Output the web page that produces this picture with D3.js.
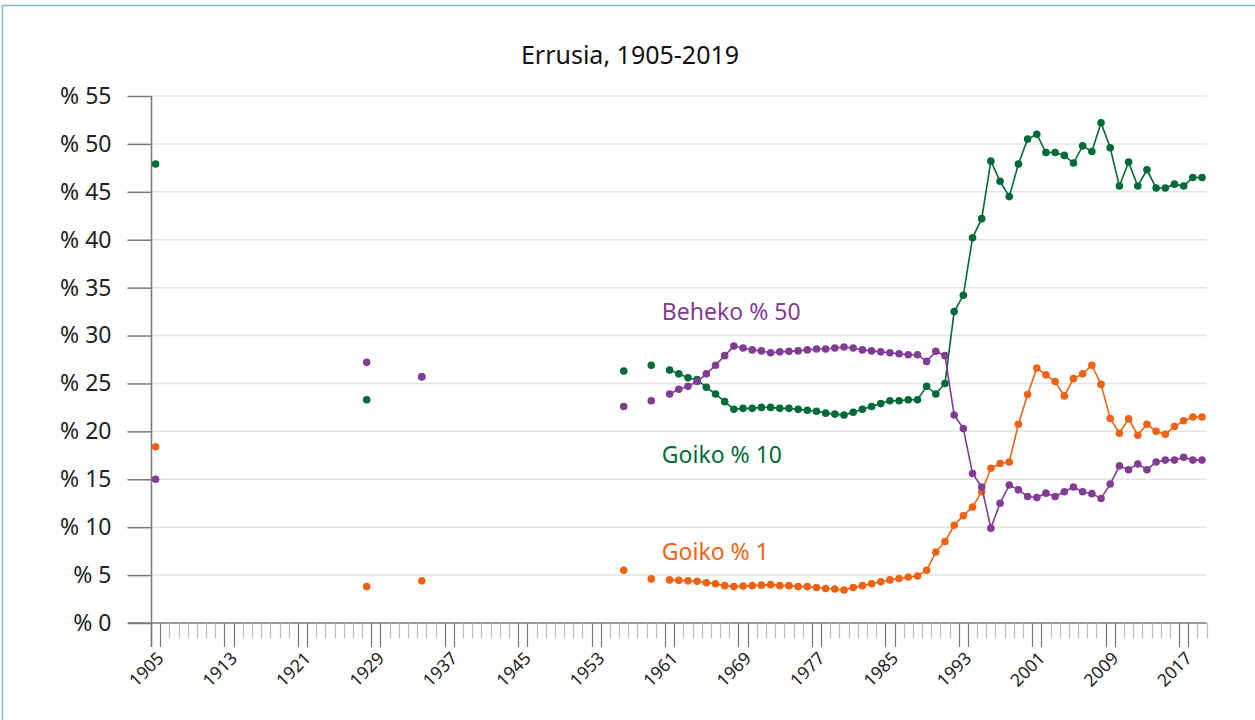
<!DOCTYPE html>
<html>
<head>
<meta charset="utf-8">
<script src="https://cdn.jsdelivr.net/npm/d3@7"></script>
<style>
  html, body { margin: 0; padding: 0; background: #fff; }
  svg { display: block; font-family: "Noto Sans", Lato, sans-serif; }
</style>
</head>
<body>
<svg id="chart" width="1255" height="720"></svg>
<script>
// ---- data ----
const title = "Errusia, 1905-2019";
const years = [1905, 1928, 1934, 1956, 1959,
  1961, 1962, 1963, 1964, 1965, 1966, 1967, 1968, 1969, 1970,
  1971, 1972, 1973, 1974, 1975, 1976, 1977, 1978, 1979, 1980,
  1981, 1982, 1983, 1984, 1985, 1986, 1987, 1988, 1989, 1990,
  1991, 1992, 1993, 1994, 1995, 1996, 1997, 1998, 1999, 2000,
  2001, 2002, 2003, 2004, 2005, 2006, 2007, 2008, 2009, 2010,
  2011, 2012, 2013, 2014, 2015, 2016, 2017, 2018, 2019];
const top10 = [47.9, 23.3, 25.7, 26.3, 26.9,
  26.4, 26.0, 25.6, 25.4, 24.6, 23.9, 23.1, 22.3, 22.4, 22.4,
  22.5, 22.5, 22.4, 22.4, 22.3, 22.2, 22.1, 21.9, 21.8, 21.7,
  22.0, 22.3, 22.6, 22.9, 23.2, 23.2, 23.3, 23.3, 24.7, 23.9,
  25.0, 32.5, 34.2, 40.2, 42.2, 48.2, 46.1, 44.5, 47.9, 50.5,
  51.0, 49.1, 49.1, 48.8, 48.0, 49.8, 49.2, 52.2, 49.6, 45.6,
  48.1, 45.6, 47.3, 45.4, 45.4, 45.8, 45.6, 46.5, 46.5];
const bottom50 = [15.0, 27.2, 25.7, 22.6, 23.2,
  23.9, 24.4, 24.7, 25.2, 26.0, 26.9, 27.9, 28.9, 28.7, 28.5,
  28.4, 28.2, 28.3, 28.35, 28.4, 28.5, 28.6, 28.6, 28.7, 28.8,
  28.7, 28.5, 28.4, 28.3, 28.2, 28.1, 28.0, 28.0, 27.3, 28.35,
  27.9, 21.7, 20.3, 15.6, 14.2, 9.9, 12.5, 14.4, 13.9, 13.2,
  13.1, 13.55, 13.2, 13.7, 14.2, 13.7, 13.5, 13.0, 14.5, 16.4,
  16.0, 16.6, 16.0, 16.8, 17.0, 17.0, 17.3, 17.0, 17.0];
const top1 = [18.4, 3.8, 4.4, 5.5, 4.6,
  4.5, 4.45, 4.4, 4.35, 4.2, 4.1, 3.9, 3.8, 3.85, 3.9,
  3.95, 4.0, 3.9, 3.9, 3.8, 3.8, 3.7, 3.6, 3.55, 3.45,
  3.7, 3.9, 4.1, 4.3, 4.5, 4.65, 4.8, 4.9, 5.5, 7.4,
  8.5, 10.2, 11.2, 12.1, 13.7, 16.15, 16.65, 16.8, 20.75, 23.85,
  26.6, 25.9, 25.2, 23.7, 25.5, 26.0, 26.9, 24.9, 21.35, 19.8,
  21.3, 19.6, 20.75, 20.0, 19.7, 20.5, 21.1, 21.5, 21.5];
const seriesNames = ["Goiko % 1", "Goiko % 10", "Beheko % 50"];
const seriesColors = ["#ef6213", "#006b38", "#833c95"];
const yTicks = [0, 5, 10, 15, 20, 25, 30, 35, 40, 45, 50, 55];
const firstYear = 1905, lastYear = 2019, labelStep = 8;

// ---- scales ----
const svg = d3.select("#chart");
const allYears = d3.range(firstYear, lastYear + 1);
const x = d3.scaleBand().domain(allYears).range([151, 1206.6]).padding(0);
const bw = x.bandwidth();
const xc = yr => x(yr) + bw / 2;
const y = d3.scaleLinear().domain([0, 55]).range([623, 96]);

// frame
svg.append("rect").attr("x", 2.5).attr("y", 5.5).attr("width", 1300).attr("height", 800)
  .attr("fill", "none").attr("stroke", "#8db3d0").attr("stroke-width", 1.5);

// title
svg.append("text").attr("x", 630).attr("y", 64).attr("text-anchor", "middle")
  .attr("font-size", 25).attr("fill", "#111").text(title);

// gridlines
svg.append("g").selectAll("line").data(yTicks.filter(d => d > 0)).join("line")
  .attr("x1", x.range()[0]).attr("x2", x.range()[1])
  .attr("y1", d => y(d)).attr("y2", d => y(d))
  .attr("stroke", "#e4e4e4").attr("stroke-width", 1.5);

// y axis
const yAxis = d3.axisLeft(y).tickValues(yTicks).tickSize(24).tickPadding(16)
  .tickFormat(d => "% " + d);
const gy = svg.append("g").attr("transform", "translate(151.5,0)").call(yAxis);
gy.select(".domain").remove();
gy.selectAll(".tick line").attr("stroke", "#777").attr("stroke-width", 1.5);
gy.selectAll(".tick text").attr("font-size", 23).attr("fill", "#222")
  .attr("font-family", "'Noto Sans', Lato, sans-serif");
svg.append("line").attr("x1", 151.5).attr("x2", 151.5).attr("y1", y(55)).attr("y2", y(0) + 24)
  .attr("stroke", "#777").attr("stroke-width", 1.5);

// x axis line
svg.append("line").attr("x1", 128).attr("x2", x.range()[1]).attr("y1", y(0)).attr("y2", y(0))
  .attr("stroke", "#777").attr("stroke-width", 1.5);

// x ticks at band edges
const labelYears = allYears.filter(d => (d - firstYear) % labelStep === 0);
const edges = allYears.map(d => x(d)).concat([x.range()[1]]);
const longEdges = new Set();
labelYears.forEach(d => { longEdges.add(x(d).toFixed(2)); longEdges.add((x(d) + bw).toFixed(2)); });
svg.append("g").selectAll("line").data(edges).join("line")
  .attr("x1", d => Math.round(d) + 0.5).attr("x2", d => Math.round(d) + 0.5)
  .attr("y1", y(0))
  .attr("y2", d => y(0) + (longEdges.has(d.toFixed(2)) ? 24 : 15))
  .attr("stroke", d => longEdges.has(d.toFixed(2)) ? "#777" : "#bbb")
  .attr("stroke-width", 1.2);

// x labels
svg.append("g").selectAll("text").data(labelYears).join("text")
  .attr("transform", d => `translate(${xc(d) + 5},${y(0) + 32}) rotate(-45)`)
  .attr("text-anchor", "end").attr("dy", "0.35em")
  .attr("font-size", 17.5).attr("fill", "#222").text(d => d);

// series
const seriesData = [top1, top10, bottom50];
const valueMap = seriesData.map(arr => new Map(years.map((yr, i) => [yr, arr[i]])));
const line = d3.line()
  .defined(d => d.v != null)
  .x(d => xc(d.yr)).y(d => y(d.v));

seriesData.forEach((arr, si) => {
  const full = allYears.map(yr => ({ yr, v: valueMap[si].has(yr) ? valueMap[si].get(yr) : null }));
  const g = svg.append("g");
  g.append("path").datum(full).attr("d", line)
    .attr("fill", "none").attr("stroke", seriesColors[si]).attr("stroke-width", 1.6);
  g.selectAll("circle").data(years.map((yr, i) => ({ yr, v: arr[i] }))).join("circle")
    .attr("cx", d => xc(d.yr)).attr("cy", d => y(d.v)).attr("r", 3.8)
    .attr("fill", seriesColors[si]);
});

// series labels
const labelVals = [6.6, 16.7, 31.6];
seriesNames.forEach((name, si) => {
  svg.append("text").attr("x", x(1960) + 6).attr("y", y(labelVals[si]))
    .attr("font-size", 23).attr("fill", seriesColors[si]).text(name);
});
</script>
</body>
</html>
